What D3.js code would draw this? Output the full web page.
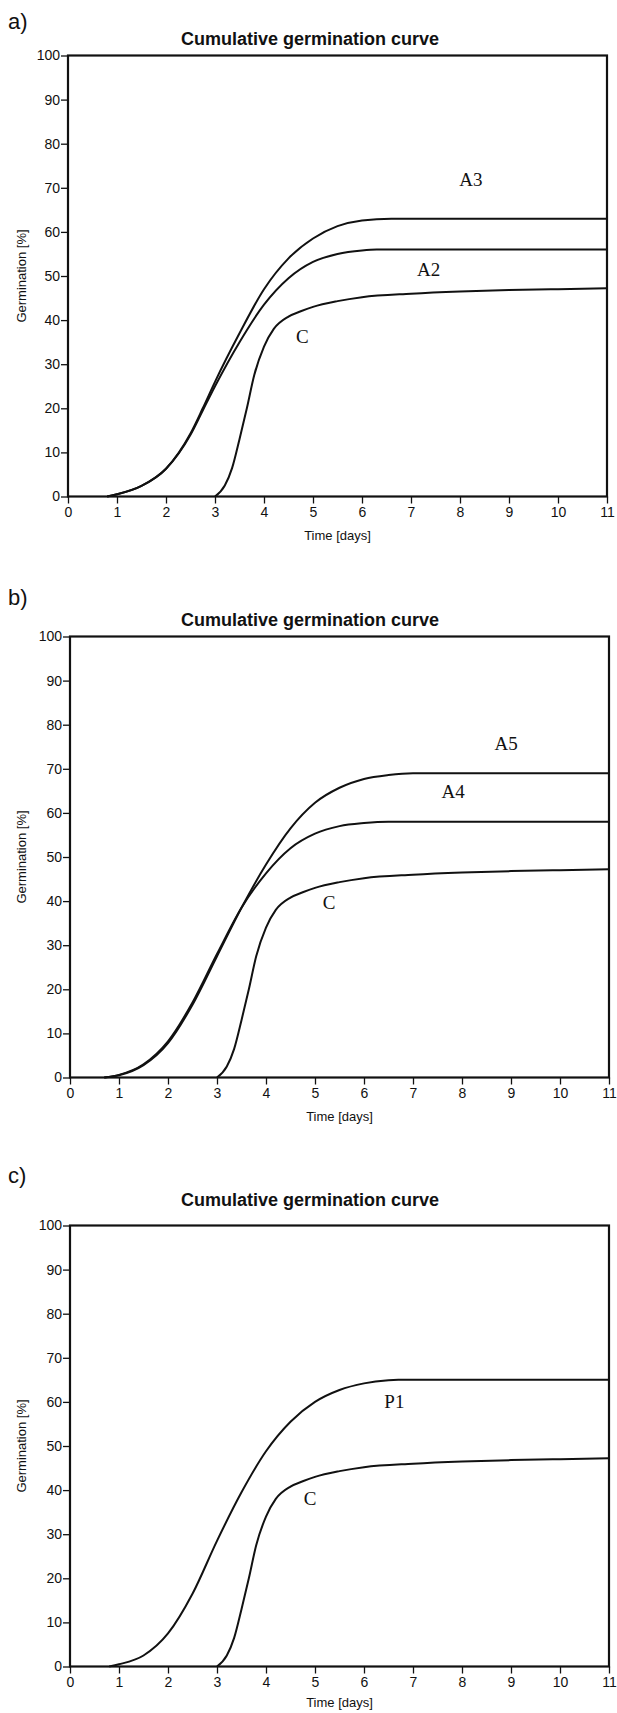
<!DOCTYPE html>
<html>
<head>
<meta charset="utf-8">
<script src="https://cdn.jsdelivr.net/npm/d3@7/dist/d3.min.js"></script>
<style>
  html, body { margin: 0; padding: 0; background: #fff; }
  svg { display: block; }
</style>
</head>
<body>
<svg id="chart" width="617" height="1713"></svg>
<script>
// ---------- DATA ----------
const xTicks = [0,1,2,3,4,5,6,7,8,9,10,11];
const yTicks = [0,10,20,30,40,50,60,70,80,90,100];
const chartTitle = "Cumulative germination curve";
const xTitle = "Time [days]";
const yTitle = "Germination [%]";
const panelLabels = ["a)", "b)", "c)"];

// [day, germination %]
const controlC = [[3.0,0],[3.2,2.5],[3.35,6.5],[3.5,13],[3.65,20],[3.8,27.5],[4.0,34],[4.2,38],[4.5,40.8],[4.75,42],[5.0,43],[5.5,44.3],[6.0,45.2],[7.0,46],[8.0,46.5],[9.0,46.8],[10.0,47],[11.0,47.2]];
const seriesA2 = [[0.8,0],[1.0,0.5],[1.5,2.4],[2.0,6.3],[2.5,14],[2.75,19.5],[3.0,25],[3.5,35],[4.0,43.5],[4.5,49.5],[5.0,53.2],[5.5,55],[6.0,55.8],[6.3,56],[11.0,56]];
const seriesA3 = [[0.8,0],[1.0,0.5],[1.5,2.4],[2.0,6.3],[2.5,14.3],[2.75,20],[3.0,26],[3.5,37],[4.0,47],[4.5,54],[5.0,58.5],[5.5,61.3],[6.0,62.6],[6.6,63],[11.0,63]];
const seriesA4 = [[0.7,0],[1.0,0.6],[1.5,3],[2.0,8.2],[2.5,17],[3.0,28],[3.5,38.5],[4.0,46.3],[4.5,52],[5.0,55.3],[5.5,57],[6.0,57.7],[6.5,58],[11.0,58]];
const seriesA5 = [[0.7,0],[1.0,0.5],[1.5,2.8],[2.0,7.8],[2.5,16.5],[3.0,27.5],[3.5,38.5],[4.0,48.3],[4.5,56.5],[5.0,62.3],[5.5,65.7],[6.0,67.7],[6.5,68.6],[7.0,69],[11.0,69]];
const seriesP1 = [[0.8,0],[1.0,0.5],[1.5,2.5],[2.0,7.5],[2.5,16.5],[3.0,28.5],[3.5,39.5],[4.0,48.8],[4.5,55.5],[5.0,60],[5.5,62.7],[6.0,64.2],[6.5,64.9],[6.7,65],[11.0,65]];

// curve label names and where they sit [day, %]
const labelsA = [["A3",8.22,71.4],["A2",7.36,51.1],["C",4.78,35.8]];
const labelsB = [["A5",8.9,75.3],["A4",7.82,64.4],["C",5.29,39.3]];
const labelsC = [["P1",6.62,59.5],["C",4.9,37.5]];

// ---------- LAYOUT ----------
const panels = [
  {label: panelLabels[0], series: [seriesA3, seriesA2, controlC], labels: labelsA,
   left: 68, right: 607, top: 55.5, bottom: 496.5, labelY: 29, titleY: 45, xTitleGap: 43},
  {label: panelLabels[1], series: [seriesA5, seriesA4, controlC], labels: labelsB,
   left: 70, right: 609, top: 636.5, bottom: 1077.5, labelY: 605, titleY: 626, xTitleGap: 43},
  {label: panelLabels[2], series: [seriesP1, controlC], labels: labelsC,
   left: 70, right: 609, top: 1225.5, bottom: 1666.5, labelY: 1183, titleY: 1206, xTitleGap: 40}
];

const svg = d3.select("#chart");
const sans = "'Liberation Sans', Arial, sans-serif";
const serif = "'Liberation Serif', 'Times New Roman', serif";

panels.forEach(p => {
  const x = d3.scaleLinear().domain([0, 11]).range([p.left, p.right]);
  const y = d3.scaleLinear().domain([0, 100]).range([p.bottom, p.top]);
  const g = svg.append("g");

  // panel letter
  g.append("text").attr("x", 8).attr("y", p.labelY)
    .attr("font-family", sans).attr("font-size", 22).attr("fill", "#111")
    .text(p.label);

  // title
  g.append("text").attr("x", 310).attr("y", p.titleY)
    .attr("text-anchor", "middle").attr("font-family", sans)
    .attr("font-weight", "bold").attr("font-size", 18).attr("fill", "#111")
    .text(chartTitle);

  // axes
  const xAxis = d3.axisBottom(x).tickValues(xTicks).tickSize(7).tickPadding(4).tickFormat(d3.format("d"));
  const yAxis = d3.axisLeft(y).tickValues(yTicks).tickSize(7).tickPadding(1).tickFormat(d3.format("d"));

  const gx = g.append("g").attr("transform", `translate(0,${p.bottom})`).call(xAxis);
  const gy = g.append("g").attr("transform", `translate(${p.left},0)`).call(yAxis);
  [gx, gy].forEach(a => {
    a.select(".domain").remove();
    a.selectAll(".tick line").attr("stroke", "#111").attr("stroke-width", 1.3);
    a.selectAll(".tick text").attr("font-family", sans).attr("font-size", 14).attr("fill", "#111");
  });

  // frame
  g.append("rect").attr("x", x(0)).attr("y", y(100))
    .attr("width", x(11) - x(0)).attr("height", y(0) - y(100))
    .attr("fill", "none").attr("stroke", "#111").attr("stroke-width", 2.2);

  // curves
  const line = d3.line().x(d => x(d[0])).y(d => y(d[1])).curve(d3.curveMonotoneX);
  p.series.forEach(s => {
    g.append("path").datum(s).attr("d", line)
      .attr("fill", "none").attr("stroke", "#111").attr("stroke-width", 2);
  });

  // curve labels
  p.labels.forEach(l => {
    g.append("text").attr("x", x(l[1])).attr("y", y(l[2]))
      .attr("text-anchor", "middle").attr("dominant-baseline", "middle")
      .attr("font-family", serif).attr("font-size", 19).attr("fill", "#111")
      .text(l[0]);
  });

  // axis titles
  g.append("text").attr("x", (p.left + p.right) / 2).attr("y", p.bottom + p.xTitleGap)
    .attr("text-anchor", "middle").attr("font-family", sans).attr("font-size", 13).attr("fill", "#111")
    .text(xTitle);
  g.append("text")
    .attr("transform", `translate(26,${(p.top + p.bottom) / 2}) rotate(-90)`)
    .attr("text-anchor", "middle").attr("font-family", sans).attr("font-size", 13)
    .attr("fill", "#111")
    .text(yTitle);
});
</script>
</body>
</html>
